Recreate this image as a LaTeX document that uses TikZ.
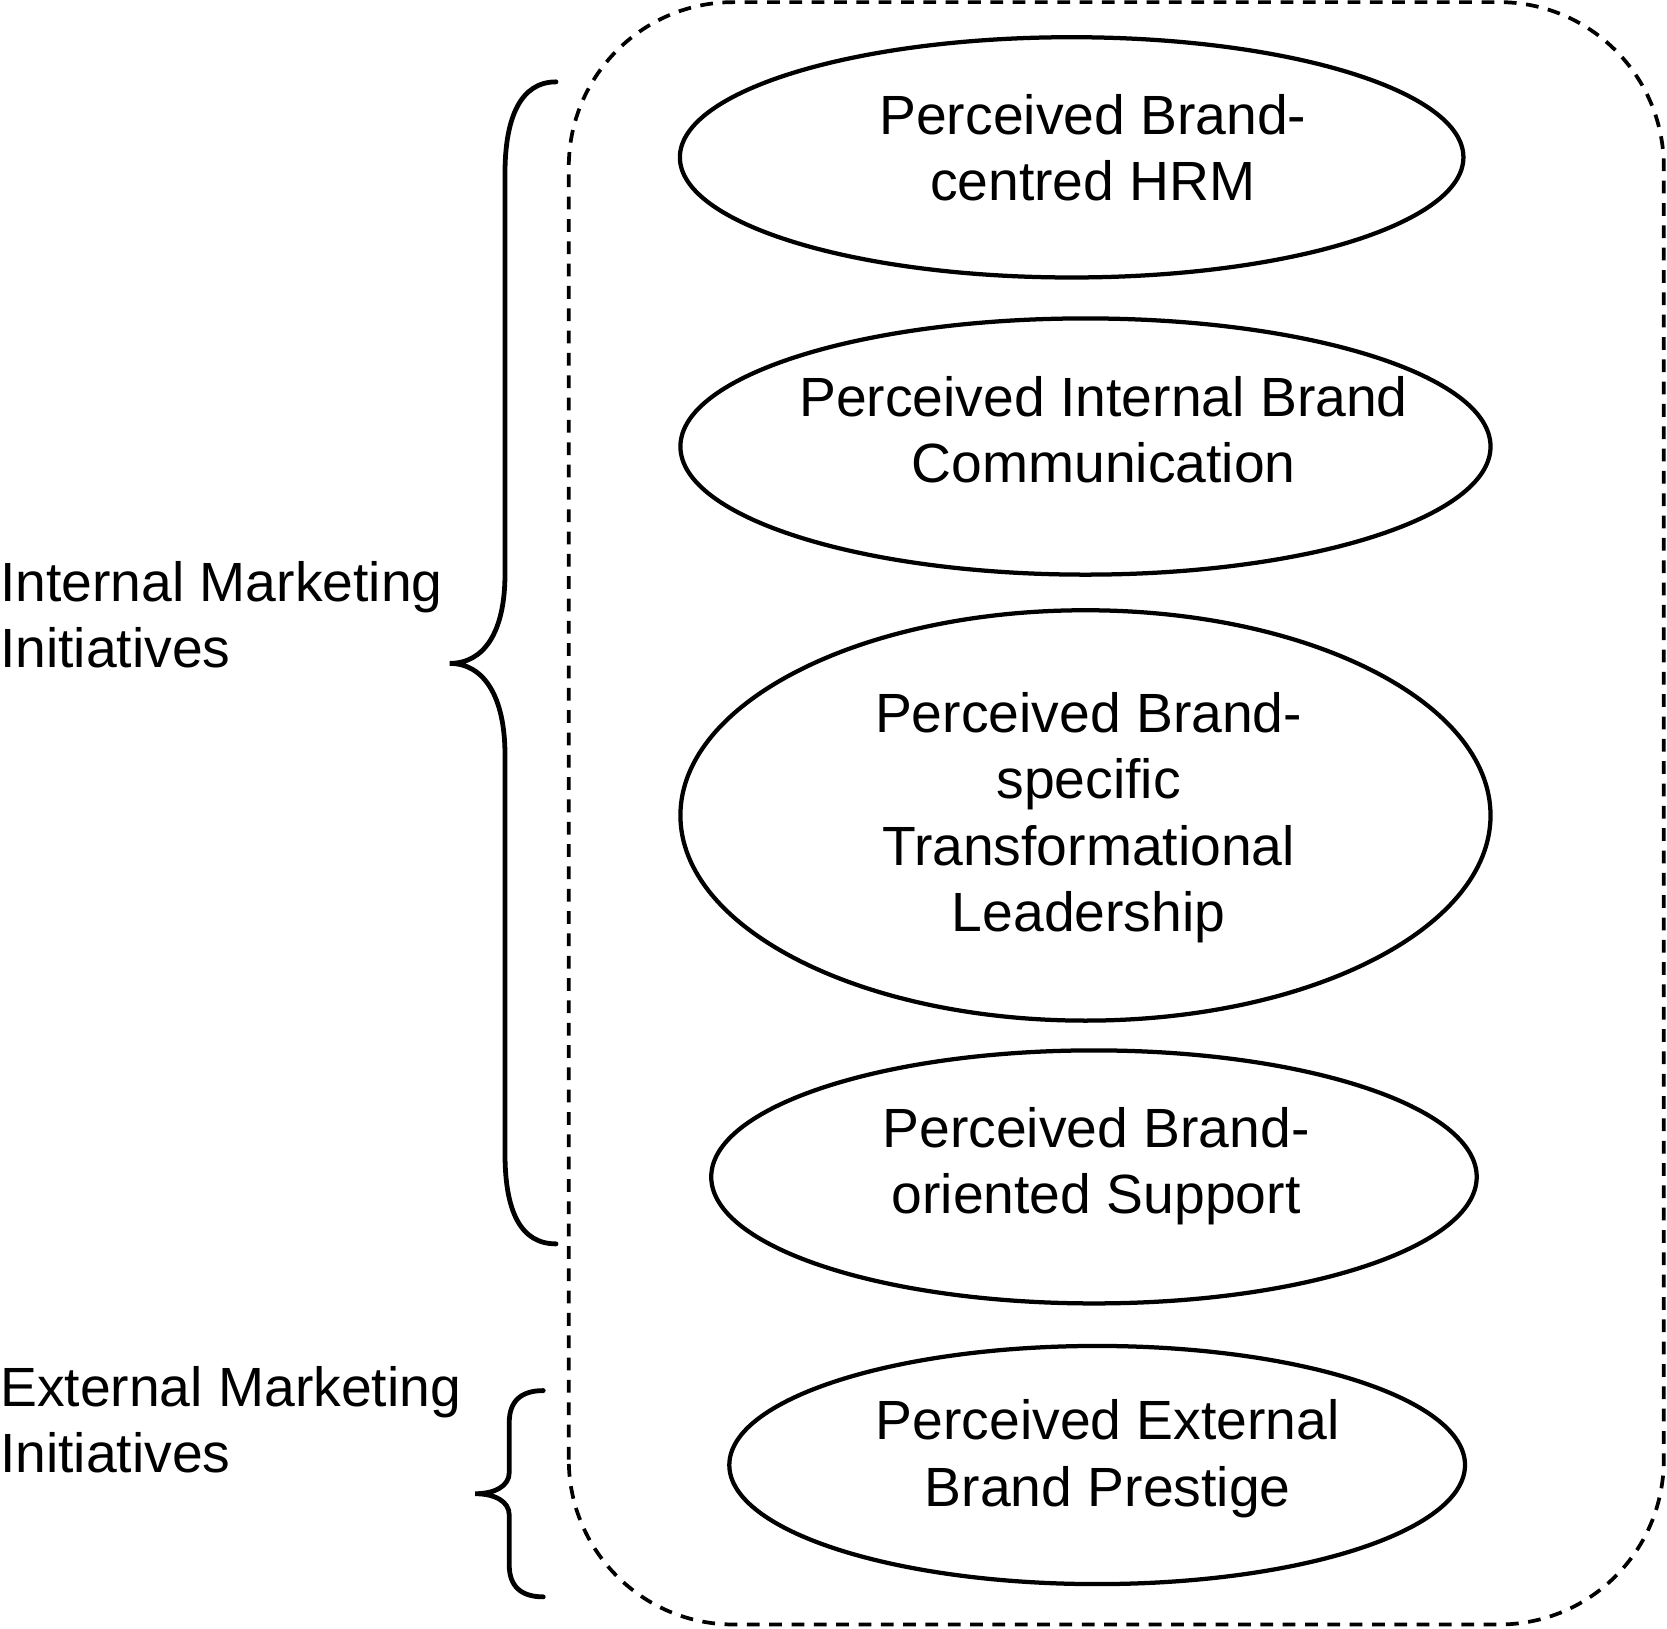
\documentclass[tikz,border=0pt]{standalone}
\usepackage{fontspec}
\setmainfont{Liberation Sans}
\usetikzlibrary{shapes.geometric}
\begin{document}
\begin{tikzpicture}[x=1pt,y=-1pt,
  ell/.style={draw, line width=4pt, shape=ellipse, inner sep=0pt},
  lbl/.style={font=\fontsize{52}{62.5}\selectfont, align=center, inner sep=0pt},
  side/.style={font=\fontsize{52}{62}\selectfont, align=left, inner sep=0pt, anchor=west},
  bracestyle/.style={line width=4.5pt, line cap=round},
  groupbox/.style={line width=3.5pt, dash pattern=on 12pt off 9pt, rounded corners=155pt}]
\useasboundingbox (0,0) rectangle (1568,1532);
\coordinate (bl) at (535,1528);
\coordinate (tr) at (1565,2);
\draw[groupbox] (bl) rectangle (tr);

\node[ell, minimum width=737pt, minimum height=226pt] (e1) at (1008,148) {};
\node[ell, minimum width=762pt, minimum height=241pt] (e2) at (1021,420) {};
\node[ell, minimum width=762pt, minimum height=386pt] (e3) at (1021,767) {};
\node[ell, minimum width=720pt, minimum height=238pt] (e4) at (1029,1107) {};
\node[ell, minimum width=692pt, minimum height=224pt] (e5) at (1032,1378) {};

\node[lbl] (t1) at (1028,139) {Perceived Brand-\\centred HRM};
\node[lbl] (t2) at (1038,404) {Perceived Internal Brand\\Communication};
\node[lbl] (t3) at (1024,769) {Perceived Brand-\\specific\\Transformational\\Leadership};
\node[lbl] (t4) at (1031,1097) {Perceived Brand-\\oriented Support};
\node[lbl] (t5) at (1042,1372) {Perceived External\\Brand Prestige};

\node[side] (l1) at (0,578) {Internal Marketing\\Initiatives};
\node[side] (l2) at (0,1335) {External Marketing\\Initiatives};

\draw[bracestyle] (523,77) .. controls (490,77) and (475,110) .. (475,163)
  -- (475,540) .. controls (475,595) and (455,624) .. (423,624)
  .. controls (455,624) and (475,655) .. (475,710)
  -- (475,1085) .. controls (475,1140) and (490,1170) .. (523,1170);

\draw[bracestyle] (511,1308) .. controls (490,1308) and (479,1318) .. (479,1338)
  -- (479,1385) .. controls (479,1398) and (465,1405) .. (447,1405)
  .. controls (465,1405) and (479,1412) .. (479,1425)
  -- (479,1472) .. controls (479,1492) and (490,1502) .. (511,1502);
\end{tikzpicture}
\end{document}
